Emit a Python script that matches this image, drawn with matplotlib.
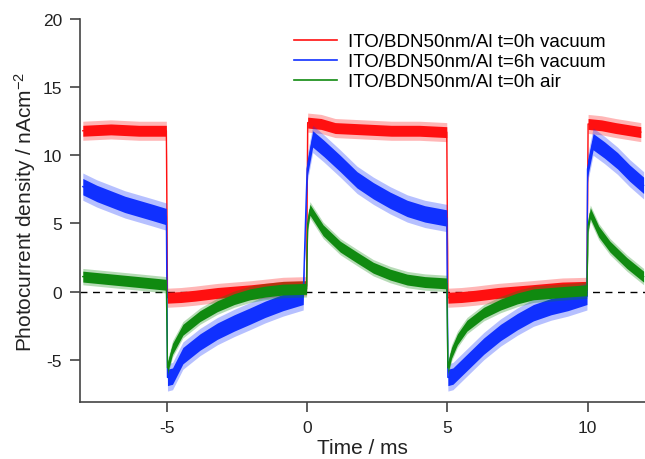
import matplotlib
matplotlib.use("Agg")
import matplotlib.pyplot as plt
import numpy as np

plt.rcParams['font.family'] = ['Liberation Sans', 'DejaVu Sans']
plt.rcParams['mathtext.default'] = 'regular'

# ---- data ----
labels = ["ITO/BDN50nm/Al t=0h vacuum",
          "ITO/BDN50nm/Al t=6h vacuum",
          "ITO/BDN50nm/Al t=0h air"]
colors = ["#ff1010", "#1030ff", "#108a10"]

red_t = [-8.0, -7.0, -6.0, -5.02, -4.98, -4.5, -4.0, -3.2, -2.0, -0.86, -0.02,
         0.02, 0.5, 1.0, 2.0, 3.0, 4.0, 4.98, 5.02, 5.5, 6.0, 6.8, 8.0, 9.1, 9.98,
         10.02, 10.5, 11.0, 11.9]
red_y = [11.8, 11.9, 11.8, 11.8, -0.45, -0.4, -0.3, -0.1, 0.1, 0.35, 0.4,
         12.4, 12.3, 12.0, 11.9, 11.8, 11.8, 11.7, -0.45, -0.4, -0.3, -0.1, 0.1, 0.3, 0.35,
         12.3, 12.2, 12.0, 11.7]

blue_t = [-8.0, -7.5, -7.0, -6.5, -6.0, -5.5, -5.02, -4.98, -4.8, -4.43, -3.82, -3.2,
          -2.6, -2.04, -1.5, -0.86, -0.14, 0.0, 0.2, 0.6, 1.18, 1.78, 2.36, 2.96, 3.57,
          4.2, 4.98, 5.02, 5.2, 5.7, 6.3, 6.9, 7.5, 8.07, 8.7, 9.3, 9.98, 10.0, 10.2,
          10.6, 11.07, 11.5, 12.0]
blue_y = [7.7, 7.2, 6.8, 6.4, 6.1, 5.8, 5.5, -6.3, -6.2, -4.7, -3.7, -2.9,
          -2.3, -1.8, -1.3, -0.8, -0.35, 9.0, 11.2, 10.5, 9.4, 8.2, 7.4, 6.7, 6.1,
          5.7, 5.4, -6.3, -6.2, -5.2, -4.0, -3.0, -2.2, -1.55, -1.1, -0.8, -0.35, 9.0, 11.0,
          10.4, 9.6, 8.7, 7.8]

green_t = [-8.0, -7.0, -6.0, -5.02, -4.98, -4.8, -4.43, -3.82, -3.2, -2.6, -2.04, -1.5,
           -0.86, -0.02, 0.02, 0.1, 0.57, 1.18, 1.78, 2.36, 2.96, 3.57, 4.2, 4.98, 5.02,
           5.15, 5.36, 5.7, 6.3, 6.9, 7.5, 8.07, 9.3, 9.98, 10.02, 10.1, 10.4, 10.8, 11.4, 12.0]
green_y = [1.1, 0.9, 0.7, 0.5, -5.6, -4.2, -2.8, -1.8, -1.07, -0.55, -0.2, 0.0,
           0.15, 0.2, 5.0, 6.0, 4.5, 3.3, 2.5, 1.75, 1.25, 0.88, 0.7, 0.6, -5.6,
           -4.5, -3.5, -2.5, -1.55, -0.95, -0.5, -0.2, 0.0, 0.1, 4.8, 5.75, 4.4, 3.3, 2.1, 1.1]

# visible noise half-width of each trace (nA cm^-2): dense core and outer spikes
noise_core = [0.4, 0.6, 0.4]
noise_spike = [0.7, 1.0, 0.6]

xticks = [-5, 0, 5, 10]
yticks = [-5, 0, 5, 10, 15, 20]

series = [(red_t, red_y), (blue_t, blue_y), (green_t, green_y)]

fig = plt.figure(figsize=(6.45, 4.6), dpi=100)
ax = fig.add_axes([80/645, 57/460, 1 - 80/645, (403-20)/460])

ax.axhline(0, color="black", lw=1.0, ls=(0, (5, 4)), zorder=1)

for i, ((t, y), c, lab) in enumerate(zip(series, colors, labels)):
    t = np.asarray(t)
    y = np.asarray(y)
    z = 2 + i
    ax.fill_between(t, y - noise_spike[i], y + noise_spike[i], color=c, lw=0,
                    alpha=0.3, zorder=z)
    ax.fill_between(t, y - noise_core[i], y + noise_core[i], color=c, lw=0, zorder=z)
    ax.plot(t, y, color=c, lw=1.0, zorder=z, label=lab)

ax.set_xlim(-8.1, 12.05)
ax.set_ylim(-8.1, 20)
ax.set_xticks(xticks)
ax.set_yticks(yticks)
ax.set_xticklabels([str(v) for v in xticks])
ax.set_yticklabels([str(v) for v in yticks])

for s in ["top", "right"]:
    ax.spines[s].set_visible(False)
for s in ["left", "bottom"]:
    ax.spines[s].set_color("#444444")
    ax.spines[s].set_linewidth(1.2)
ax.tick_params(direction="out", length=7, width=1.2, color="#444444",
               labelsize=12.5, pad=6, labelcolor="#222222")

ax.set_xlabel("Time / ms", fontsize=15, color="#222222", labelpad=2)
ax.set_ylabel("Photocurrent density / nAcm$^{-2}$", fontsize=15, color="#222222", labelpad=3)

leg = ax.legend(loc="upper left", bbox_to_anchor=(0.355, 0.997), frameon=False,
                fontsize=13.5, handlelength=2.3, handletextpad=0.6,
                labelspacing=0.15, borderaxespad=0.3)
for h in leg.get_lines():
    h.set_linewidth(1.2)

fig.savefig("out.png", dpi=100)
